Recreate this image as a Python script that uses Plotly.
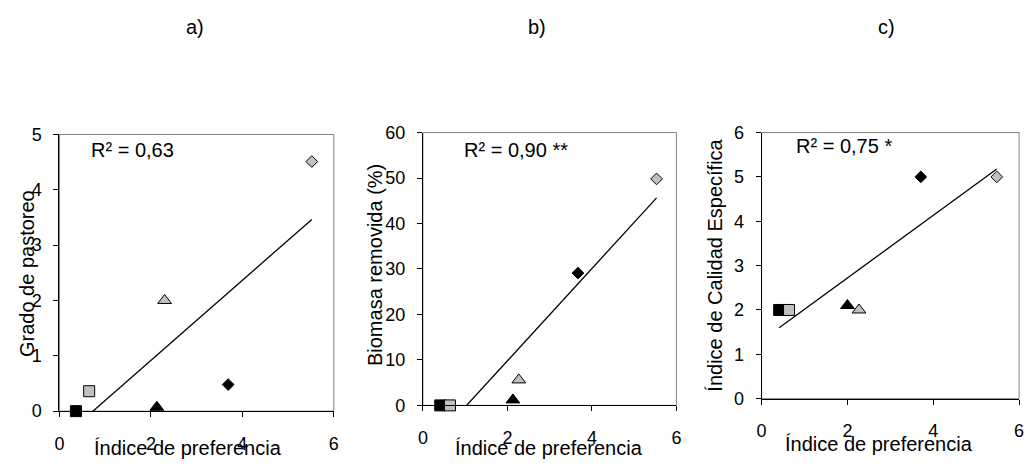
import numpy as np
import plotly.graph_objects as go

# ---- data -------------------------------------------------------------
pref_a = [0.36, 0.65, 2.13, 2.30, 3.69, 5.52]
grado_pastoreo = [0.0, 0.36, 0.07, 2.0, 0.48, 4.51]

pref_b = [0.41, 0.64, 2.13, 2.27, 3.67, 5.53]
biomasa_removida = [0.0, 0.0, 1.2, 5.6, 29.1, 49.8]

pref_c = [0.41, 0.64, 2.00, 2.27, 3.71, 5.48]
calidad_especifica = [2.0, 2.0, 2.1, 2.0, 5.0, 5.0]

panel_labels = ["a)", "b)", "c)"]
r2_labels = ["R² = 0,63", "R² = 0,90 **", "R² = 0,75 *"]
y_titles = ["Grado de pastoreo", "Biomasa removida (%)", "Índice de Calidad Específica"]
x_title = "Índice de preferencia"
x_ticks = [0, 2, 4, 6]
y_ticks = [[0, 1, 2, 3, 4, 5], [0, 10, 20, 30, 40, 50, 60], [0, 1, 2, 3, 4, 5, 6]]
y_ranges = [[0, 5], [0, 60], [0, 6]]

# ---- styling ----------------------------------------------------------
W, H = 1032, 469
FONT = "Liberation Sans, Arial, sans-serif"
GREY = "#c0c0c0"
symbols = ["square", "square", "triangle-up", "triangle-up", "diamond", "diamond"]
fills = ["#000000", GREY, "#000000", GREY, "#000000", GREY]
sizes = [11, 11, 12, 12, 9, 9]

# plot-area boxes in pixels: (left, right, top, bottom)
boxes = [(55, 332, 130, 419), (422, 678, 128, 413), (764, 1024, 128, 406)]
panel_title_pos = [(192, 18), (537, 18), (890, 18)]
r2_pos = [(85, 146), (461, 146), (797, 142)]
ytitle_pos = [(22, 275), (373, 266), (717, 267)]
xtitle_pos = [(185, 458), (549, 458), (883, 453)]


def fx(px):
    return px / W


def fy(py):
    return 1 - py / H


panels = [(pref_a, grado_pastoreo), (pref_b, biomasa_removida), (pref_c, calidad_especifica)]

fig = go.Figure()
layout = dict(
    width=W, height=H, margin=dict(l=0, r=0, t=0, b=0),
    paper_bgcolor="white", plot_bgcolor="white",
    showlegend=False, font=dict(family=FONT, size=16, color="black"),
    annotations=[], shapes=[],
)

for i, ((xs, ys), (l, r, t, b)) in enumerate(zip(panels, boxes)):
    n = "" if i == 0 else str(i + 1)
    xa, ya = "x" + n, "y" + n

    # least-squares trend line across the observed range
    slope, intercept = np.polyfit(xs, ys, 1)
    lx = np.array([min(xs), max(xs)])
    fig.add_trace(go.Scatter(
        x=lx, y=slope * lx + intercept, mode="lines",
        line=dict(color="black", width=1.3), xaxis=xa, yaxis=ya,
        hoverinfo="skip",
    ))
    fig.add_trace(go.Scatter(
        x=xs, y=ys, mode="markers", cliponaxis=False,
        marker=dict(symbol=symbols, color=fills, size=sizes, opacity=1,
                    line=dict(color="black", width=1)),
        xaxis=xa, yaxis=ya,
    ))

    axis_common = dict(
        showgrid=False, zeroline=False, showline=True, linecolor="black",
        linewidth=1, ticks="outside", ticklen=5, tickcolor="black",
        tickfont=dict(family=FONT, size=18, color="black"),
    )
    layout["xaxis" + n] = dict(
        axis_common, domain=[fx(l), fx(r)], range=[0, 6],
        tickvals=x_ticks, anchor=ya, ticklabelstandoff=11,
    )
    layout["yaxis" + n] = dict(
        axis_common, domain=[fy(b), fy(t)], range=y_ranges[i],
        tickvals=y_ticks[i], anchor=xa, ticklabelstandoff=8,
    )

    # light frame on the top and right sides of the plot area
    layout["shapes"].append(dict(
        type="rect", xref=xa + " domain", yref=ya + " domain",
        x0=0, x1=1, y0=0, y1=1, line=dict(color="#808080", width=1),
        layer="below",
    ))

    px, py = panel_title_pos[i]
    layout["annotations"].append(dict(
        text=panel_labels[i], x=fx(px), y=fy(py), xref="paper", yref="paper",
        showarrow=False, font=dict(size=20), xanchor="center", yanchor="middle",
    ))
    px, py = r2_pos[i]
    layout["annotations"].append(dict(
        text=r2_labels[i], x=fx(px), y=fy(py), xref="paper", yref="paper",
        showarrow=False, font=dict(size=20), xanchor="left", yanchor="middle",
    ))
    px, py = ytitle_pos[i]
    layout["annotations"].append(dict(
        text=y_titles[i], x=fx(px), y=fy(py), xref="paper", yref="paper",
        showarrow=False, font=dict(size=20), textangle=-90,
        xanchor="center", yanchor="middle",
    ))
    px, py = xtitle_pos[i]
    layout["annotations"].append(dict(
        text=x_title, x=fx(px), y=fy(py), xref="paper", yref="paper",
        showarrow=False, font=dict(size=20), xanchor="center", yanchor="middle",
    ))

fig.update_layout(**layout)
fig.write_html("out.html")
